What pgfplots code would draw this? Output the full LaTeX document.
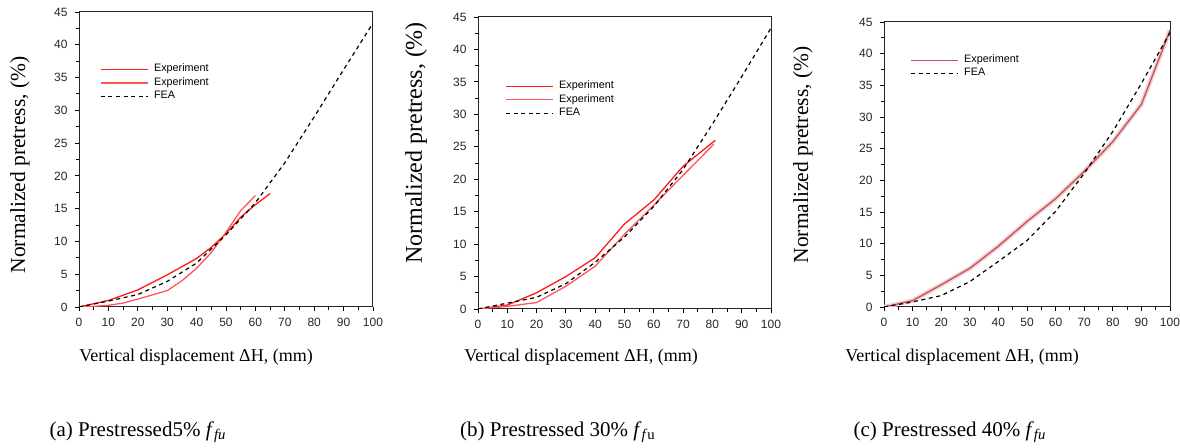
\documentclass[border=0pt]{standalone}
\usepackage{pgfplots}
\pgfplotsset{compat=1.18}
\usepackage{fontspec}
\setmainfont{Liberation Serif}
\newfontfamily\arial{Liberation Sans}
\definecolor{expA}{HTML}{FF1A1A}
\definecolor{expB}{HTML}{FF5555}
\definecolor{expC}{HTML}{C8505C}
\definecolor{expCsh}{HTML}{F2D0D0}
\pgfplotsset{
  myaxis/.style={
    scale only axis,
    xmin=0, xmax=100, ymin=0, ymax=45,
    xtick={0,10,...,100}, ytick={0,5,...,45},
    minor x tick num=1, minor y tick num=1,
    tick align=outside, xtick pos=bottom, ytick pos=left,
    major tick length=2.2pt, minor tick length=1.4pt,
    axis line style={line width=0.5pt, black!85},
    every tick/.style={line width=0.45pt, black},
    tick label style={font=\arial\fontsize{6}{7}\selectfont, text=black!85},
    /pgf/number format/assume math mode=true,
    legend cell align=left,
    legend image code/.code={\draw[##1, line width=0.6pt] (0pt,0pt) -- (23.5pt,0pt);},
    legend style={draw=none, fill=none, font=\arial\fontsize{5.4}{6}\selectfont,
      anchor=north west, inner sep=0pt, row sep=-0.6pt,
      nodes={inner sep=1pt, anchor=west},
      /tikz/every odd column/.append style={column sep=1.8pt}},
  },
  fea/.style={black, line width=0.6pt, dash pattern=on 2pt off 1.8pt},
}
\begin{document}
\begin{tikzpicture}
% ---------- panel (a)
\begin{axis}[myaxis, at={(39.5pt,70.5pt)}, anchor=south west,
  width=147pt, height=147.5pt,
  legend style={at={(0.071,0.832)}}]
\addplot[expA, line width=0.65pt] coordinates {(0,0) (10,1.0) (20,2.6) (30,4.9) (40,7.4) (45,9.1) (50,11.2) (55,13.7) (60,15.6) (65,17.3)};
\addlegendentry{Experiment}
\addplot[expB, line width=0.65pt] coordinates {(0,0) (5,0.1) (10,0.25) (15,0.6) (20,1.2) (30,2.5) (35,4.0) (40,5.9) (45,8.3) (50,11.4) (55,14.7) (60,17.0)};
\addlegendentry{Experiment}
\addplot[fea] coordinates {(0,0) (10,0.9) (20,1.9) (30,3.9) (40,6.7) (50,11.0) (60,15.9) (70,22.0) (80,29.0) (90,36.2) (100,43.3)};
\addlegendentry{FEA}
\end{axis}
% ---------- panel (b)
\begin{axis}[myaxis, at={(239pt,69.5pt)}, anchor=south west,
  width=146.5pt, height=146pt,
  legend style={at={(0.092,0.79)}}]
\addplot[expA, line width=0.65pt] coordinates {(0,0) (10,0.6) (20,2.5) (30,5.0) (40,7.9) (50,13.1) (60,16.8) (70,22.0) (81,26.0)};
\addlegendentry{Experiment}
\addplot[expB, line width=0.65pt] coordinates {(0,0) (10,0.4) (20,1.0) (30,3.5) (40,6.6) (50,11.5) (60,16.0) (70,20.6) (80.5,25.4)};
\addlegendentry{Experiment}
\addplot[fea] coordinates {(0,0) (10,0.9) (20,1.8) (30,3.9) (40,7.2) (50,11.1) (60,15.8) (70,21.5) (80,28.5) (90,35.8) (100,43.3)};
\addlegendentry{FEA}
\end{axis}
% ---------- panel (c)
\begin{axis}[myaxis, at={(442pt,70.5pt)}, anchor=south west,
  width=143pt, height=142.5pt,
  legend style={at={(0.091,0.893)}}]
\addplot[expCsh, line width=2.2pt, forget plot] coordinates {(0,0) (10,1.0) (20,3.5) (30,6.1) (40,9.6) (50,13.5) (60,17.1) (70,21.4) (80,26.1) (90,32.0) (100,43.7)};
\addplot[expC, line width=0.65pt] coordinates {(0,0) (10,1.0) (20,3.5) (30,6.1) (40,9.6) (50,13.5) (60,17.1) (70,21.4) (80,26.1) (90,32.0) (100,43.7)};
\addlegendentry{Experiment}
\addplot[fea] coordinates {(0,0) (10,0.8) (20,1.8) (30,4.0) (40,7.2) (50,10.5) (60,15.1) (70,21.1) (80,27.7) (90,35.3) (100,43.3)};
\addlegendentry{FEA}
\end{axis}
% ---------- labels
\node[rotate=90, font=\fontsize{10.75}{12}\selectfont] at (10pt,141.5pt) {Normalized pretress, (\%)};
\node[rotate=90, font=\fontsize{12}{14}\selectfont] at (208pt,152.5pt) {Normalized pretress, (\%)};
\node[rotate=90, font=\fontsize{10.75}{12}\selectfont] at (401.5pt,146.5pt) {Normalized pretress, (\%)};
\node[font=\fontsize{9}{11}\selectfont] at (98pt,45.5pt) {Vertical displacement ΔH, (mm)};
\node[font=\fontsize{9}{11}\selectfont] at (290.5pt,45.5pt) {Vertical displacement ΔH, (mm)};
\node[font=\fontsize{9}{11}\selectfont] at (481pt,45.5pt) {Vertical displacement ΔH, (mm)};
\node[font=\fontsize{10.5}{12}\selectfont] at (69pt,8pt) {(a) Prestressed5\% \textit{f}\textsubscript{\textit{fu}}};
\node[font=\fontsize{10.5}{12}\selectfont] at (279pt,8pt) {(b) Prestressed 30\% \textit{f}\textsubscript{\textit{f}u}};
\node[font=\fontsize{10.5}{12}\selectfont] at (475pt,8pt) {(c) Prestressed 40\% \textit{f}\textsubscript{\textit{fu}}};
\pgfresetboundingbox
\useasboundingbox (0,0) rectangle (590pt,224pt);
\end{tikzpicture}
\end{document}
